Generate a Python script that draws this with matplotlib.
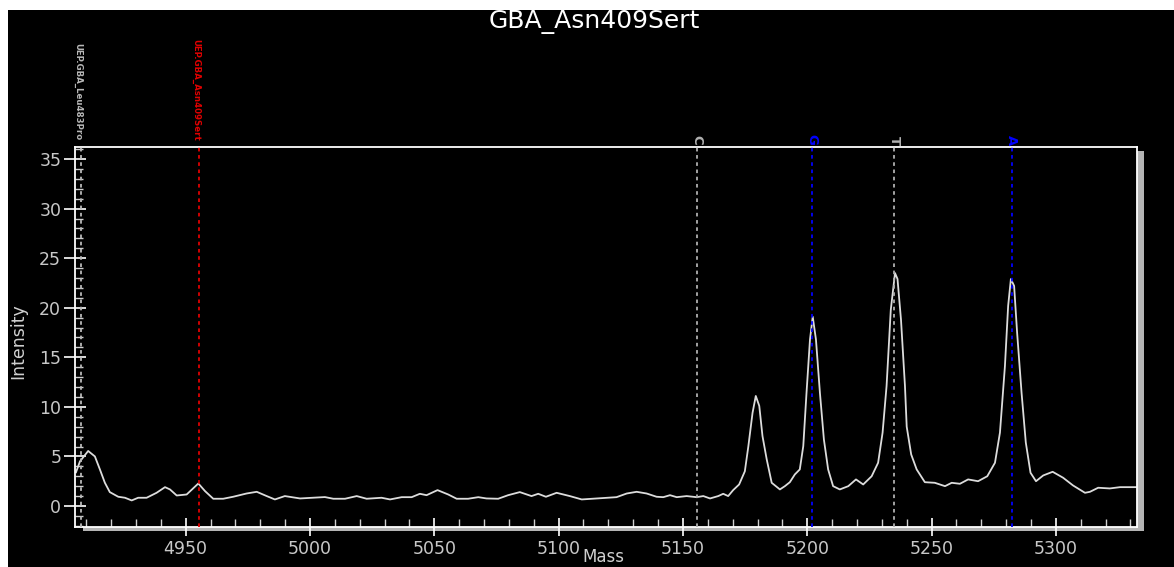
import matplotlib
matplotlib.use("Agg")
import matplotlib.pyplot as plt
import matplotlib.transforms as mtransforms
from matplotlib.patches import Rectangle
from matplotlib.ticker import MultipleLocator

# espectro (masa, intensidad)
mass = [4905.9, 4907.5, 4910.8, 4913.5, 4915.5, 4917.5, 4919.5, 4922.9, 4925.6, 4928.3,
        4930.9, 4934.3, 4938.3, 4941.7, 4943.7, 4946.4, 4950.4, 4955.1, 4957.8, 4961.1,
        4965.1, 4969.1, 4974.5, 4978.6, 4982.6, 4985.9, 4989.9, 4996.0, 5001.3, 5006.0,
        5009.4, 5014.1, 5018.8, 5022.8, 5028.8, 5032.2, 5036.9, 5040.9, 5044.2, 5046.9,
        5051.3, 5055.6, 5059.0, 5063.6, 5067.7, 5071.0, 5075.7, 5079.7, 5084.4, 5089.1,
        5091.8, 5094.9, 5099.2, 5104.5, 5109.3, 5115.3, 5123.3, 5127.4, 5131.4, 5135.4,
        5139.4, 5142.1, 5144.8, 5147.5, 5151.5, 5155.5, 5158.2, 5160.9, 5164.2, 5166.2,
        5168.2, 5170.2, 5172.6, 5174.9, 5176.3, 5178.0, 5179.3, 5180.7, 5182.0, 5183.7,
        5185.7, 5189.0, 5191.0, 5193.0, 5195.0, 5197.0, 5198.4, 5199.7, 5201.1, 5202.2,
        5203.5, 5205.1, 5206.7, 5208.4, 5210.4, 5213.1, 5216.5, 5219.6, 5222.5, 5225.9,
        5228.5, 5230.3, 5231.9, 5233.6, 5235.3, 5236.3, 5237.7, 5239.3, 5240.0, 5241.8,
        5244.0, 5247.3, 5251.3, 5255.4, 5258.1, 5261.4, 5264.7, 5268.7, 5272.4, 5275.5,
        5277.5, 5279.5, 5280.8, 5281.9, 5283.2, 5284.4, 5286.2, 5287.9, 5289.8, 5292.0,
        5294.9, 5298.7, 5302.9, 5306.9, 5311.7, 5313.7, 5317.0, 5321.7, 5325.8, 5332.4]
intensity = [3.4, 4.5, 5.55, 5.0, 3.7, 2.35, 1.4, 0.93, 0.83, 0.56,
             0.83, 0.83, 1.33, 1.9, 1.67, 1.06, 1.16, 2.27, 1.5, 0.73,
             0.73, 0.93, 1.26, 1.43, 1.0, 0.66, 1.0, 0.76, 0.83, 0.9,
             0.73, 0.73, 1.0, 0.73, 0.83, 0.66, 0.89, 0.89, 1.23, 1.09,
             1.6, 1.16, 0.73, 0.73, 0.89, 0.76, 0.73, 1.09, 1.4, 1.0,
             1.23, 0.93, 1.33, 1.0, 0.66, 0.76, 0.89, 1.26, 1.43, 1.26,
             0.93, 0.89, 1.09, 0.89, 1.0, 0.89, 1.0, 0.76, 1.0, 1.23,
             1.0, 1.6, 2.17, 3.5, 6.0, 9.4, 11.1, 10.1, 7.05, 4.7,
             2.34, 1.67, 2.0, 2.4, 3.18, 3.69, 6.04, 11.4, 16.8, 19.1,
             16.8, 11.4, 6.7, 3.69, 2.0, 1.67, 2.0, 2.68, 2.17, 3.0,
             4.36, 7.4, 12.1, 19.8, 23.5, 22.9, 18.8, 12.1, 8.0, 5.2,
             3.69, 2.4, 2.34, 2.0, 2.34, 2.24, 2.68, 2.5, 3.0, 4.36,
             7.4, 14.1, 20.2, 22.9, 22.2, 17.5, 11.4, 6.4, 3.35, 2.5,
             3.08, 3.45, 2.85, 2.07, 1.33, 1.43, 1.84, 1.77, 1.9, 1.9]

uep_names = ["UEP.GBA_Leu483Pro", "UEP.GBA_Asn409Sert"]
uep_mass = [4907.9, 4955.2]
uep_colors = ["#b8b8b8", "#e00000"]

allele_names = ["C", "G", "T", "A"]
allele_mass = [5155.5, 5202.0, 5235.0, 5282.2]
allele_colors = ["#b0b0b0", "#0000ff", "#b0b0b0", "#0000ff"]

W, H = 1174, 567
fig = plt.figure(figsize=(W / 100, H / 100), dpi=100, facecolor="white")


def fx(px):
    return px / W


def fy(py):
    return 1 - py / H


# fondo negro (con franja blanca arriba y a la izquierda)
fig.add_artist(Rectangle((fx(8), 0), 1 - fx(8), fy(10), transform=fig.transFigure,
                         facecolor="black", edgecolor="none", zorder=-2))
# sombra gris del marco
fig.add_artist(Rectangle((fx(83), fy(531)), fx(1144) - fx(83), fy(527) - fy(531),
                         transform=fig.transFigure, facecolor="#b4b4b4",
                         edgecolor="none", zorder=-1))
fig.add_artist(Rectangle((fx(1137), fy(531)), fx(1144) - fx(1137), fy(151) - fy(531),
                         transform=fig.transFigure, facecolor="#b4b4b4",
                         edgecolor="none", zorder=-1))

ax = fig.add_axes([fx(75), fy(526.7), fx(1136.7) - fx(75), fy(146.5) - fy(526.7)])
ax.set_facecolor("black")

ax.plot(mass, intensity, color="#dcdcdc", lw=1.3, zorder=2)

for m, c in zip(uep_mass + allele_mass, uep_colors + allele_colors):
    ax.axvline(m, color=c, lw=1.3, linestyle=(0, (2, 2)), zorder=3)

ax.set_xlim(4905.5, 5332.5)
ax.set_ylim(-2.09, 36.27)

for s in ax.spines.values():
    s.set_color("white")
    s.set_linewidth(1.3)

ax.xaxis.set_major_locator(MultipleLocator(50))
ax.xaxis.set_minor_locator(MultipleLocator(10))
ax.yaxis.set_major_locator(MultipleLocator(5))
ax.yaxis.set_minor_locator(MultipleLocator(1))

ax.tick_params(axis="x", which="major", direction="inout", length=13, width=1.2,
               color="white", labelcolor="#c8c8c8", labelsize=12.5, pad=3)
ax.tick_params(axis="x", which="minor", direction="in", length=5.8, width=1,
               color="#d0d0d0")
ax.tick_params(axis="y", which="major", direction="inout", length=15.8, width=1.2,
               color="white", labelcolor="#c8c8c8", labelsize=12.5, pad=2)
ax.tick_params(axis="y", which="minor", direction="in", length=6, width=1,
               color="#d0d0d0")

narrow = ["Liberation Sans Narrow", "DejaVu Sans"]

# etiquetas de los UEP sobre el grafico
trans = mtransforms.blended_transform_factory(ax.transData, ax.transAxes)
for name, m, c in zip(uep_names, uep_mass, uep_colors):
    ax.text(m - 1.3, 1.016, name, transform=trans, rotation=270, ha="center",
            va="bottom", color=c, fontsize=6.2, fontweight="bold", family=narrow,
            clip_on=False)
for name, m, c in zip(allele_names, allele_mass, allele_colors):
    ax.text(m, 1.004, name, transform=trans, rotation=270, ha="center",
            va="bottom", color=c, fontsize=9.5, fontweight="bold", clip_on=False)

fig.text(0.5066, fy(22), "GBA_Asn409Sert", ha="center", va="center",
         color="white", fontsize=18)
fig.text(fx(18.5), fy(341), "Intensity", rotation=90, ha="center", va="center",
         color="#d0d0d0", fontsize=12.5, family=narrow)
fig.text(fx(603), fy(566), "Mass", ha="center", va="bottom",
         color="#d0d0d0", fontsize=12)

fig.savefig("out.png", dpi=100, facecolor="white")
